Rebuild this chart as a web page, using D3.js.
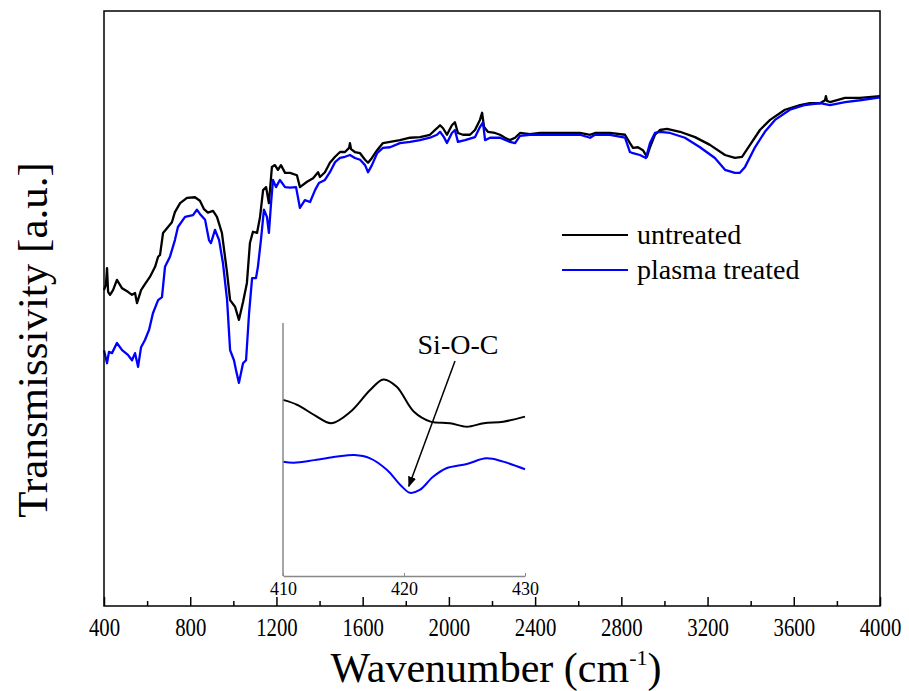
<!DOCTYPE html>
<html lang="en">
<head>
<meta charset="UTF-8">
<title>FTIR spectra</title>
<script src="https://cdnjs.cloudflare.com/ajax/libs/d3/7.8.5/d3.min.js"></script>
<style>
  body { margin: 0; background: #fff; }
  text { font-family: "Liberation Serif", "Times New Roman", Times, serif; fill: #000; }
</style>
</head>
<body>
<svg width="909" height="691"></svg>
<script>
// wavenumber (cm-1) and transmissivity (a.u.)
const untreatedX = [400,409,414,419,428,442,460,484,511,530,544,553,572,590,613,637,651,660,674,697,715,729,753,785,822,845,864,882,906,924,947,971,985,1008,1026,1045,1063,1077,1091,1110,1124,1138,1152,1165,1179,1193,1207,1221,1240,1263,1295,1309,1342,1370,1393,1402,1425,1448,1472,1495,1518,1537,1541,1546,1564,1588,1611,1625,1643,1667,1694,1727,1773,1820,1866,1912,1945,1959,1973,1991,2014,2028,2042,2065,2098,2121,2144,2154,2163,2181,2214,2237,2260,2283,2307,2330,2376,2423,2515,2608,2655,2678,2747,2817,2840,2854,2877,2900,2919,2933,2956,2979,3012,3072,3142,3211,3281,3327,3360,3397,3443,3490,3559,3629,3675,3722,3745,3749,3754,3768,3838,3907,4000];
const untreatedY = [53.1,54.0,56.8,52.8,52.3,53.1,54.8,53.4,52.8,52.3,52.6,50.9,53.1,54.1,55.3,57.0,58.7,59.0,62.7,63.7,64.5,66.2,67.7,68.6,68.7,68.1,66.7,66.1,66.4,65.4,62.7,56.0,51.4,50.3,48.1,51.1,54.3,61.0,62.9,62.7,65.4,69.9,70.4,67.7,73.8,74.1,73.3,74.1,72.8,72.8,72.4,70.4,71.3,71.9,72.9,72.1,72.9,74.5,75.5,76.3,76.3,77.0,77.8,76.8,76.3,76.1,75.0,74.5,75.3,76.6,77.8,78.0,78.3,78.7,78.8,79.2,80.3,80.8,80.3,79.2,80.8,81.3,79.5,79.2,79.2,80.0,81.7,82.9,80.5,79.7,79.5,79.2,78.7,78.3,78.7,79.5,79.3,79.5,79.5,79.5,79.2,79.5,79.5,79.2,77.8,77.0,77.1,76.6,75.5,77.1,79.2,80.0,80.2,79.7,78.8,77.5,75.8,75.3,75.5,77.5,80.0,81.7,83.4,84.2,84.5,84.5,85.0,85.7,84.9,84.7,85.4,85.4,85.7];

const treatedX = [400,414,423,437,460,484,511,530,544,558,572,590,609,627,651,669,683,706,729,743,776,813,831,845,869,887,896,915,934,952,971,985,1003,1012,1026,1045,1059,1073,1087,1105,1114,1128,1142,1156,1165,1175,1184,1198,1216,1240,1263,1291,1309,1332,1356,1379,1397,1425,1448,1472,1495,1518,1541,1564,1588,1611,1625,1643,1667,1694,1727,1773,1820,1866,1912,1945,1959,1977,1991,2014,2028,2042,2075,2121,2144,2158,2168,2191,2237,2283,2307,2330,2376,2515,2608,2655,2678,2747,2817,2840,2854,2886,2914,2933,2956,2979,3026,3095,3165,3234,3281,3327,3350,3374,3420,3466,3513,3582,3652,3722,3768,3838,3907,4000];
const treatedY = [43.0,40.8,42.7,42.5,44.2,43.0,42.2,41.3,42.5,40.2,43.5,44.7,46.4,49.2,51.4,51.9,57.0,58.7,61.5,63.7,65.4,65.7,66.6,65.9,64.9,61.5,61.0,63.2,61.5,57.6,51.4,43.0,41.3,39.7,37.5,40.8,41.3,49.2,55.1,55.1,57.0,61.5,66.6,65.4,62.7,67.7,71.6,70.4,71.6,70.4,70.3,70.4,66.9,68.2,67.9,69.9,71.1,71.6,72.9,74.6,75.3,75.5,75.8,75.3,75.0,74.1,72.9,74.1,76.1,77.0,77.1,77.8,78.0,78.3,78.7,79.2,79.7,78.8,77.8,79.5,80.0,78.0,78.3,78.8,80.5,81.3,78.3,78.7,78.7,78.0,77.8,79.0,79.2,79.2,79.2,78.7,79.2,79.2,78.7,76.3,76.1,75.8,75.3,77.8,79.5,79.7,79.5,78.7,77.1,75.3,73.3,72.8,72.8,73.8,77.1,79.7,81.7,83.4,84.2,84.5,84.2,84.7,85.0,85.5];

// inset, 410-430 cm-1
const insetUntreatedX = [410,411.2,412.6,414.0,415.6,417.2,418.3,419.4,420.8,422.2,423.8,425.2,426.6,428.2,430];
const insetUntreatedY = [69.6,67.6,63.6,60.4,65.0,73.5,77.7,74.8,65.0,61.0,60.4,59.0,60.4,61.0,63.0];
const insetTreatedX = [410,410.9,412.6,414.5,415.9,417.2,418.6,419.7,420.5,421.3,422.4,423.5,425.2,426.8,428.2,430];
const insetTreatedY = [45.2,44.8,45.8,47.2,47.8,46.5,41.9,36.0,32.9,34.0,39.2,42.6,44.3,46.5,45.2,42.2];

const xTicks = [400,800,1200,1600,2000,2400,2800,3200,3600,4000];
const insetTicks = [410,420,430];
const seriesNames = ['untreated', 'plasma treated'];
const seriesColors = ['#000000', '#0000ff'];

const svg = d3.select('svg');
svg.append('rect').attr('width', 909).attr('height', 691).attr('fill', '#fff');

const plotL = 104, plotR = 880, plotT = 11, plotB = 606;
const x = d3.scaleLinear().domain([400, 4000]).range([plotL, plotR]);
const y = d3.scaleLinear().domain([0, 100]).range([plotB, plotT]);

const zip = (xs, ys) => xs.map((d, i) => [d, ys[i]]);

// main curves
const line = d3.line().x(d => x(d[0])).y(d => y(d[1]));
[zip(untreatedX, untreatedY), zip(treatedX, treatedY)].forEach((data, i) => {
    svg.append('path')
        .attr('d', line(data))
        .attr('fill', 'none')
        .attr('stroke', seriesColors[i])
        .attr('stroke-width', 2.3)
        .attr('stroke-linejoin', 'round');
});

// frame
svg.append('rect')
    .attr('x', plotL).attr('y', plotT)
    .attr('width', plotR - plotL).attr('height', plotB - plotT)
    .attr('fill', 'none').attr('stroke', '#000').attr('stroke-width', 1.5);

// bottom axis, ticks pointing inward; labels narrow like the original
const xAxis = svg.append('g')
    .attr('transform', `translate(0,${plotB})`)
    .call(d3.axisBottom(x).tickValues(xTicks).tickSize(-9).tickPadding(12).tickFormat(d3.format('d')));
xAxis.select('.domain').remove();
xAxis.selectAll('.tick line').attr('stroke-width', 1.5);
xAxis.selectAll('.tick text')
    .attr('font-size', 26)
    .attr('transform', 'scale(0.8,1)');
svg.append('g')
    .attr('transform', `translate(0,${plotB})`)
    .call(d3.axisBottom(x).tickValues(d3.range(600, 4000, 400)).tickSize(-5).tickFormat(''))
    .call(g => g.select('.domain').remove())
    .selectAll('.tick line').attr('stroke-width', 1.5);

// axis titles
const xTitle = svg.append('text')
    .attr('x', 496).attr('y', 682)
    .attr('text-anchor', 'middle')
    .attr('font-size', 42);
xTitle.append('tspan').text('Wavenumber (cm');
xTitle.append('tspan').attr('font-size', 22).attr('dy', -17).text('-1');
xTitle.append('tspan').attr('dy', 17).text(')');

svg.append('text')
    .attr('transform', 'translate(47,340) rotate(-90)')
    .attr('text-anchor', 'middle')
    .attr('font-size', 43)
    .text('Transmissivity [a.u.]');

// legend
seriesNames.forEach((name, i) => {
    const ly = 235 + i * 35;
    svg.append('line')
        .attr('x1', 562).attr('x2', 628).attr('y1', ly).attr('y2', ly)
        .attr('stroke', seriesColors[i]).attr('stroke-width', 2);
    svg.append('text')
        .attr('x', 637).attr('y', ly + 9)
        .attr('font-size', 28)
        .text(name);
});

// inset
const ix = d3.scaleLinear().domain([410, 430]).range([283, 525]);
const iy = d3.scaleLinear().domain([0, 100]).range([576, 323]);
const insetLine = d3.line().curve(d3.curveCatmullRom).x(d => ix(d[0])).y(d => iy(d[1]));
[zip(insetUntreatedX, insetUntreatedY), zip(insetTreatedX, insetTreatedY)].forEach((data, i) => {
    svg.append('path')
        .attr('d', insetLine(data))
        .attr('fill', 'none')
        .attr('stroke', seriesColors[i])
        .attr('stroke-width', 2);
});
svg.append('line')
    .attr('x1', 283).attr('x2', 283).attr('y1', 323).attr('y2', 576)
    .attr('stroke', '#888').attr('stroke-width', 1.5);
const insetAxis = svg.append('g')
    .attr('transform', 'translate(0,576)')
    .call(d3.axisBottom(ix).tickValues(insetTicks).tickSize(-3).tickPadding(6).tickSizeOuter(0));
insetAxis.select('.domain').attr('stroke', '#888').attr('stroke-width', 1.5);
insetAxis.selectAll('.tick line').attr('stroke', '#888');
insetAxis.selectAll('.tick text')
    .attr('font-size', 18);

// annotation arrow
svg.append('defs').append('marker')
    .attr('id', 'arrow')
    .attr('viewBox', '0 0 10 10')
    .attr('refX', 9).attr('refY', 5)
    .attr('markerWidth', 7).attr('markerHeight', 7)
    .attr('orient', 'auto')
    .append('path').attr('d', 'M0,1 L10,5 L0,9 Z').attr('fill', '#000');
svg.append('line')
    .attr('x1', 455).attr('y1', 361)
    .attr('x2', ix(420.4)).attr('y2', iy(35.5))
    .attr('stroke', '#000').attr('stroke-width', 1.5)
    .attr('marker-end', 'url(#arrow)');
svg.append('text')
    .attr('x', 458).attr('y', 354)
    .attr('text-anchor', 'middle')
    .attr('font-size', 28)
    .text('Si-O-C');
</script>
</body>
</html>
